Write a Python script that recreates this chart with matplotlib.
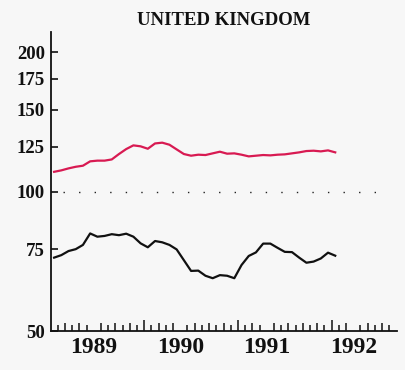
import numpy as np
import matplotlib
matplotlib.use("Agg")
import matplotlib.pyplot as plt

# monthly index values, Jan 1989 - Apr 1992 (log scale, 1985 = 100)
months = np.arange(40)
red_series = [110.3, 111.1, 112.2, 113.1, 113.7, 116.2, 116.6, 116.6, 117.3, 120.5,
              123.5, 125.8, 125.2, 123.7, 127.0, 127.5, 126.2, 123.3, 120.5, 119.5,
              120.1, 119.9, 120.9, 121.9, 120.7, 120.9, 120.1, 119.1, 119.5, 119.9,
              119.7, 120.1, 120.3, 120.9, 121.5, 122.3, 122.5, 122.1, 122.7, 121.5]
black_series = [72.0, 72.9, 74.4, 75.1, 76.7, 81.2, 79.9, 80.2, 80.9, 80.5,
                81.1, 79.9, 77.3, 75.8, 78.2, 77.7, 76.7, 75.0, 71.1, 67.4,
                67.5, 65.8, 65.0, 66.0, 65.8, 65.0, 69.4, 72.6, 73.9, 77.2,
                77.2, 75.6, 74.1, 74.0, 72.0, 70.2, 70.6, 71.7, 73.8, 72.7]
years = [1989, 1990, 1991, 1992]
y_ticks = [50, 75, 100, 125, 150, 175, 200]
title = "UNITED KINGDOM"

serif = "Liberation Serif"
bg = "#f7f7f7"

fig = plt.figure(figsize=(4.05, 3.70), dpi=100, facecolor=bg)
ax = fig.add_axes([50.5 / 405, 1 - 331 / 370, 346 / 405, 299 / 370])
ax.set_facecolor(bg)

x = years[0] + (months + 0.5) / 12.0
ax.plot(x, red_series, color="#d81a52", lw=1.6, solid_joinstyle="round")
ax.plot(x, black_series, color="#111111", lw=1.6, solid_joinstyle="round")

# dotted reference line at 100
ax.axhline(100, xmin=0.036, xmax=0.962, color="#222222", lw=1.0,
           linestyle=(0, (1, 10.2)))

ax.set_yscale("log")
ax.set_ylim(50, 221)
ax.set_xlim(years[0], years[-1] + 1)

ax.yaxis.set_minor_locator(matplotlib.ticker.NullLocator())
ax.set_yticks(y_ticks)
ax.set_yticklabels([str(v) for v in y_ticks])
ax.tick_params(axis="y", direction="in", length=5, width=1.2, pad=4,
               labelsize=13.5, color="#111111")

# year labels sit mid-year; month marks along the bottom
ax.set_xticks([y + 0.5 for y in years])
ax.set_xticklabels([str(y) for y in years])
ax.tick_params(axis="x", which="major", length=0, pad=4, labelsize=17)
month_marks = [years[0] + k / 12.0 for k in range(1, 48)]
ax.set_xticks(month_marks, minor=True)
ax.tick_params(axis="x", which="minor", direction="in", width=1.1,
               color="#111111")
for k, t in enumerate(ax.xaxis.get_minor_ticks(), start=1):
    if k % 12 == 0:
        t.tick1line.set_markersize(8)
    elif k % 2 == 0:
        t.tick1line.set_markersize(6)
    else:
        t.tick1line.set_markersize(4)

for lab in ax.get_xticklabels() + ax.get_yticklabels():
    lab.set_fontfamily(serif)
    lab.set_fontweight("bold")
    lab.set_color("#111111")

for side in ["top", "right"]:
    ax.spines[side].set_visible(False)
for side in ["left", "bottom"]:
    ax.spines[side].set_linewidth(1.3)
    ax.spines[side].set_color("#111111")

fig.text(223.5 / 405, 1 - 25 / 370, title, ha="center", va="baseline",
         fontsize=13.5, fontfamily=serif, fontweight="bold", color="#111111")

fig.savefig("out.png", dpi=100, facecolor=bg)
